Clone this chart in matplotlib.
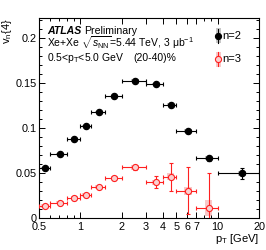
import matplotlib
matplotlib.use("Agg")
import matplotlib.pyplot as plt
from matplotlib.patches import Rectangle
from matplotlib.ticker import FixedLocator, FixedFormatter, NullFormatter
import numpy as np

plt.rcParams['font.family'] = ['Liberation Sans', 'DejaVu Sans']
plt.rcParams['mathtext.fontset'] = 'custom'
plt.rcParams['mathtext.rm'] = 'Liberation Sans'
plt.rcParams['mathtext.it'] = 'Liberation Sans:italic'
plt.rcParams['mathtext.bf'] = 'Liberation Sans:bold'

# ---- data ----
bin_lo = [0.5, 0.6, 0.8, 1.0, 1.2, 1.5, 2.0, 3.0, 4.0, 5.0, 7.0, 10.0]
bin_hi = [0.6, 0.8, 1.0, 1.2, 1.5, 2.0, 3.0, 4.0, 5.0, 7.0, 10.0, 20.0]
pt_n2 = [0.555, 0.71, 0.905, 1.10, 1.36, 1.77, 2.51, 3.54, 4.55, 6.08, 8.6, 15.0]
v2 = [0.0557, 0.0708, 0.0872, 0.1026, 0.1178, 0.1356, 0.1526, 0.1486, 0.1256, 0.0963, 0.0663, 0.0496]
v2_stat = [0.0008, 0.0008, 0.0008, 0.0008, 0.0008, 0.0009, 0.0010, 0.0010, 0.0012, 0.0016, 0.0030, 0.0060]
v2_sys = [0.0010, 0.0010, 0.0010, 0.0010, 0.0010, 0.0012, 0.0015, 0.0015, 0.0015, 0.0020, 0.0020, 0.0030]

pt_n3 = pt_n2[:11]
v3 = [0.0133, 0.0170, 0.0219, 0.0252, 0.0344, 0.0441, 0.0563, 0.0396, 0.0459, 0.0304, 0.0108]
v3_stat = [0.0015, 0.0015, 0.0015, 0.0015, 0.0015, 0.0018, 0.0030, 0.0065, 0.0155, 0.0260, 0.0390]
v3_sys = [0.0020, 0.0020, 0.0020, 0.0020, 0.0020, 0.0020, 0.0025, 0.0030, 0.0040, 0.0045, 0.0090]

xticks_major = [0.5, 1, 2, 3, 4, 5, 6, 7, 10, 20]
xticks_labels = ['0.5', '1', '2', '3', '4', '5', '6', '7', '10', '20']
xticks_minor = [0.6, 0.7, 0.8, 0.9, 8, 9]
yticks = [0, 0.05, 0.1, 0.15, 0.2]
ytick_labels = ['0', '0.05', '0.1', '0.15', '0.2']

fig = plt.figure(figsize=(2.66, 2.50), dpi=100)
ax = fig.add_axes([39/266, 32/250, 220/266, 200/250])
ax.set_xscale('log')
ax.set_xlim(0.5, 20)
ax.set_ylim(0, 0.222)

black = '#000000'
red = '#ff2020'
red_face = '#f9d0d0'
gray_sys = '#c8c8c8'
pink_sys = '#f9c8c8'
boxf = 1.065

def xerrs(pts, n):
    lo = [p - l for p, l in zip(pts, bin_lo[:n])]
    hi = [h - p for p, h in zip(pts, bin_hi[:n])]
    return [lo, hi]

for x, y, s in zip(pt_n2, v2, v2_sys):
    ax.add_patch(Rectangle((x/boxf, y - s), x*boxf - x/boxf, 2*s, facecolor=gray_sys,
                           edgecolor='none', zorder=1))
for x, y, s in zip(pt_n3, v3, v3_sys):
    ax.add_patch(Rectangle((x/boxf, y - s), x*boxf - x/boxf, 2*s, facecolor=pink_sys,
                           edgecolor='none', zorder=1))

ax.errorbar(pt_n2, v2, yerr=v2_stat, xerr=xerrs(pt_n2, len(pt_n2)), fmt='o', color=black,
            ms=4.4, mfc=black, mec=black, elinewidth=0.8, capsize=1.6, capthick=0.8, zorder=3)
ax.errorbar(pt_n3, v3, yerr=v3_stat, xerr=xerrs(pt_n3, len(pt_n3)), fmt='o', color=red,
            ms=4.4, mfc=red_face, mec=red, mew=0.8, elinewidth=0.8, capsize=1.6, capthick=0.8,
            zorder=3)

# ticks
ax.xaxis.set_major_locator(FixedLocator(xticks_major))
ax.xaxis.set_major_formatter(FixedFormatter(xticks_labels))
ax.xaxis.set_minor_locator(FixedLocator(xticks_minor))
ax.xaxis.set_minor_formatter(NullFormatter())
ax.set_yticks(yticks)
ax.set_yticklabels(ytick_labels)
ax.yaxis.set_minor_locator(FixedLocator(np.arange(0, 0.2201, 0.01)))
ax.tick_params(which='both', direction='in', top=True, right=True, labelsize=7.8, width=0.7)
ax.tick_params(which='major', length=4.5)
ax.tick_params(which='minor', length=2.3)
ax.tick_params(axis='x', which='major', pad=3)
ax.tick_params(axis='y', which='major', pad=1.5)
for sp in ax.spines.values():
    sp.set_linewidth(0.8)

ax.set_xlabel(r'p$_{\mathrm{T}}$ [GeV]', fontsize=8, loc='right', labelpad=0)
ax.set_ylabel(r'v$_{\mathrm{n}}${4}', fontsize=8, loc='top', labelpad=1)

# annotations
t_atlas = fig.text(47/266, 1 - 34/250, 'ATLAS', fontsize=7.6, ha='left', va='baseline',
                   fontweight='bold', style='italic')
ax.annotate('Preliminary', xy=(1, 0), xycoords=t_atlas, xytext=(2.2, 0),
            textcoords='offset points', fontsize=7.6, ha='left', va='bottom')
fig.text(47/266, 1 - 47/250, r'Xe+Xe $\sqrt{s_{\mathrm{NN}}}$=5.44 TeV, 3 $\mathrm{\mu}$b$^{-1}$',
         fontsize=7.5, ha='left', va='baseline')
fig.text(47/266, 1 - 61/250, r'0.5<p$_{\mathrm{T}}$<5.0 GeV', fontsize=7.5, ha='left', va='baseline')
fig.text(133/266, 1 - 61/250, '(20-40)%', fontsize=7.5, ha='left', va='baseline')

# legend
lx = 0.814
for ly, col, mfc, sysc, lab in [(0.911, black, black, gray_sys, 'n=2'),
                                 (0.794, red, red_face, pink_sys, 'n=3')]:
    ax.add_patch(Rectangle((lx - 0.011, ly - 0.037), 0.022, 0.074, transform=ax.transAxes,
                           facecolor=sysc, edgecolor='none', zorder=4, clip_on=False))
    ax.plot([lx, lx], [ly - 0.035, ly + 0.035], transform=ax.transAxes, color=col, lw=0.8,
            zorder=5, clip_on=False)
    ax.plot([lx], [ly], 'o', transform=ax.transAxes, color=col, mfc=mfc, mec=col, ms=4.4,
            mew=0.8, zorder=6, clip_on=False)
    ax.text(lx + 0.02, ly, lab, transform=ax.transAxes, fontsize=8, ha='left', va='center')

fig.savefig('out.png', dpi=100)
